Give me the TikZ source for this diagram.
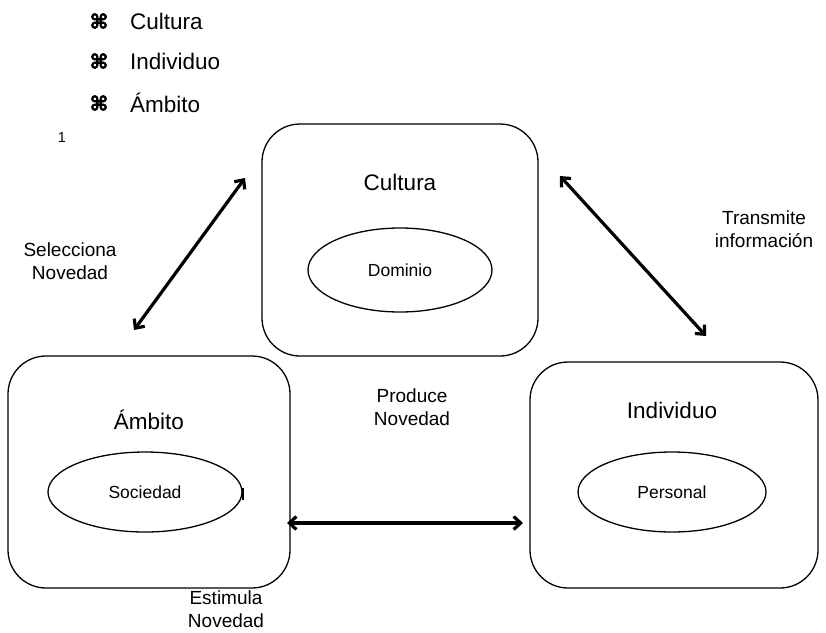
\documentclass[tikz,border=0pt]{standalone}
\usepackage{fontspec}
\setmainfont{Liberation Sans}
\newfontfamily\symfont[FakeBold=3]{DejaVu Sans Bold}
\usetikzlibrary{arrows.meta,shapes.geometric}
\begin{document}
\begin{tikzpicture}[x=1pt,y=-1pt,
  panel/.style={draw, line width=1.3pt, rounded corners=38pt, inner sep=0pt},
  oval/.style={draw, ellipse, line width=1.3pt, inner sep=0pt, font=\fontsize{17.5}{20}\selectfont},
  title/.style={font=\fontsize{22.5}{26}\selectfont},
  lbl/.style={font=\fontsize{19}{23.5}\selectfont, align=center, inner sep=0pt},
  item/.style={font=\fontsize{22.5}{26}\selectfont, anchor=west, inner sep=0pt},
  bul/.style={font=\symfont\fontsize{20}{22}\selectfont, inner sep=0pt},
  link/.style={line width=3.2pt, {Straight Barb[length=7pt,width=13pt,line width=3.2pt]}-{Straight Barb[length=7pt,width=13pt,line width=3.2pt]}}
]
\useasboundingbox (0,0) rectangle (826,632);

% bulleted list
\node[bul] (b1) at (99,21) {⌘};
\node[item] (t1) at (130,21) {Cultura};
\node[bul] (b2) at (99,61) {⌘};
\node[item] (t2) at (130,61) {Individuo};
\node[bul] (b3) at (99,103) {⌘};
\node[item] (t3) at (130,103) {Ámbito};
\node[font=\fontsize{14.5}{16}\selectfont] (num) at (62,138) {1};

% three panels
\node[panel, minimum width=276pt, minimum height=232pt] (cult) at (400,240) {};
\node[panel, minimum width=282pt, minimum height=232pt] (amb) at (149,472) {};
\node[panel, minimum width=288pt, minimum height=226pt] (ind) at (674,475) {};

\node[title] (cultT) at (400,182) {Cultura};
\node[title] (ambT) at (149,420) {Ámbito};
\node[title] (indT) at (672,410) {Individuo};

\node[oval, minimum width=184pt, minimum height=84pt] (dom) at (400,270) {Dominio};
\node[oval, minimum width=194pt, minimum height=80pt] (soc) at (145,492) {Sociedad};
\node[oval, minimum width=188pt, minimum height=80pt] (per) at (672,492) {Personal};
\draw[line width=2pt] (soc.east) ++(0,-4) -- ++(0,12);

% connector ends
\coordinate (a1) at (245,178);
\coordinate (a2) at (134,330);
\coordinate (c1) at (560,176);
\coordinate (c2) at (706,336);
\coordinate (h1) at (287,523);
\coordinate (h2) at (523,523);
\draw[link] (a1) -- (a2);
\draw[link] (c1) -- (c2);
\draw[link] (h1) -- (h2);

% relation labels
\node[lbl] (sel) at (70,261) {Selecciona\\Novedad};
\node[lbl] (tra) at (764,229) {Transmite\\información};
\node[lbl] (pro) at (412,407) {Produce\\Novedad};
\node[lbl] (est) at (226,609) {Estimula\\Novedad};
\end{tikzpicture}
\end{document}
